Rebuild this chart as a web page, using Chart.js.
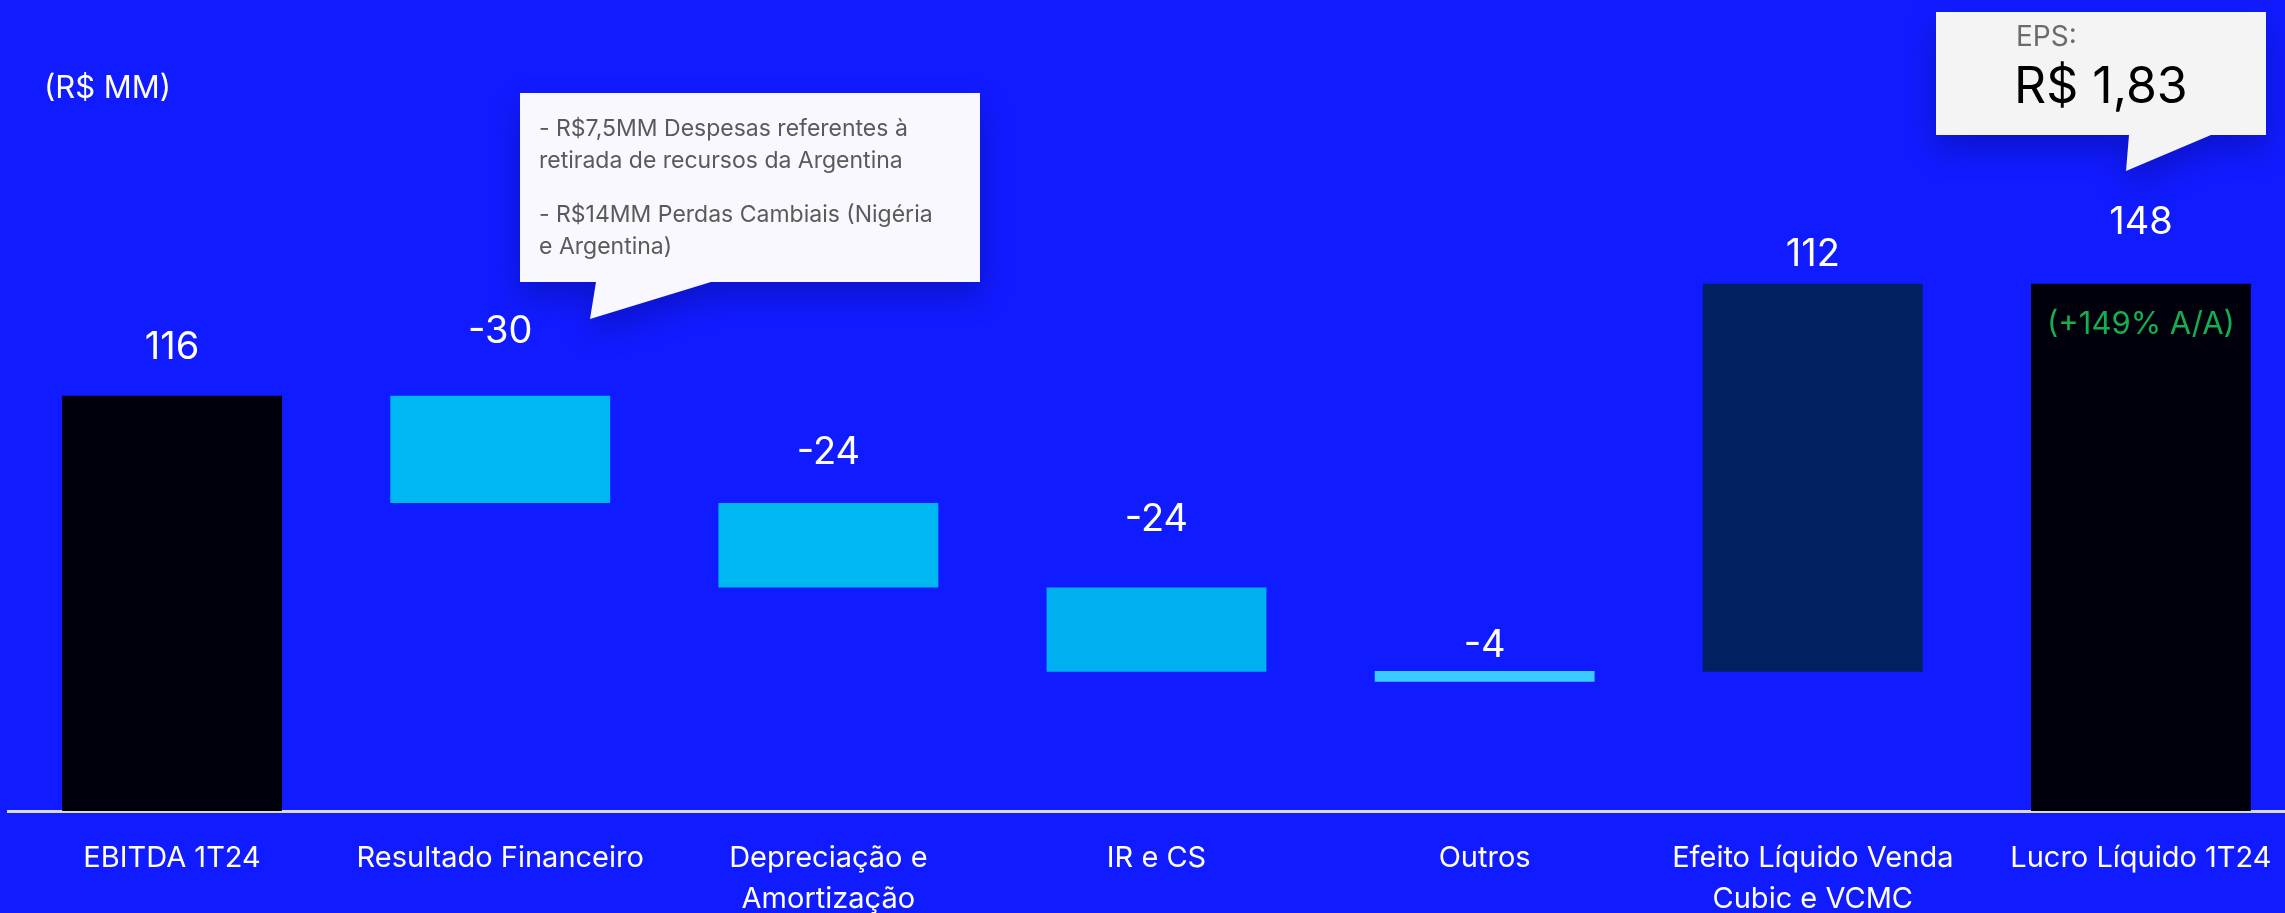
<!DOCTYPE html>
<html><head><meta charset="utf-8">
<script src="https://cdn.jsdelivr.net/npm/chart.js@4.4.1/dist/chart.umd.min.js"></script>
<style>
html,body{margin:0;padding:0;background:#111BFF;overflow:hidden;width:2285px;height:913px;}
#wrap{position:absolute;left:0;top:0;width:2305px;height:913px;}
</style></head><body>
<div id="wrap"><canvas id="c"></canvas></div>
<script>
// ---- data ----
const categories = [
  ['EBITDA 1T24'],
  ['Resultado Financeiro'],
  ['Depreciação e', 'Amortização'],
  ['IR e CS'],
  ['Outros'],
  ['Efeito Líquido Venda', 'Cubic e VCMC'],
  ['Lucro Líquido 1T24']
];
const valueLabels = [116, -30, -24, -24, -4, 112, 148];
const barStart = [0, 116, 86, 62.4, 39.1, 38.9, 0];
const barEnd   = [116, 86, 62.4, 38.9, 36.1, 147.3, 147.3];
const unitLabel = '(R$ MM)';
const noteLines = [
  '- R$7,5MM Despesas referentes à',
  'retirada de recursos da Argentina',
  '- R$14MM Perdas Cambiais (Nigéria',
  'e Argentina)'
];
const epsTitle = 'EPS:';
const epsValue = 'R$ 1,83';
const growthNote = '(+149% A/A)';

// ---- styles ----
const barColors = ['#00000C', '#00B8F1', '#00B8F1', '#00B0F0', '#38CCFF', '#002060', '#00000C'];
const labelOffsets = [-48, -64, -51, -68, -25, -29, -61];
const FONT = 'Inter, "Open Sans", sans-serif';

function drawCallout(ctx, pts, fill) {
  ctx.save();
  ctx.shadowColor = 'rgba(0,0,70,0.28)';
  ctx.shadowBlur = 30;
  ctx.shadowOffsetY = 14;
  ctx.beginPath();
  pts.forEach((p, i) => i ? ctx.lineTo(p[0], p[1]) : ctx.moveTo(p[0], p[1]));
  ctx.closePath();
  ctx.fillStyle = fill;
  ctx.fill();
  ctx.restore();
}

const overlay = {
  id: 'overlay',
  afterDatasetsDraw(chart) {
    const ctx = chart.ctx;
    const meta = chart.getDatasetMeta(0);
    ctx.save();
    ctx.textAlign = 'center';
    ctx.textBaseline = 'middle';
    ctx.fillStyle = '#FFFFFF';
    ctx.font = '38px ' + FONT;
    meta.data.forEach((bar, i) => {
      const top = Math.min(bar.y, bar.base);
      ctx.fillText(String(valueLabels[i]), bar.x, top + labelOffsets[i]);
    });
    const last = meta.data[meta.data.length - 1];
    ctx.font = '31px ' + FONT;
    ctx.fillStyle = '#12B04F';
    ctx.fillText(growthNote, last.x, Math.min(last.y, last.base) + 41);

    ctx.textAlign = 'left';
    ctx.fillStyle = '#FFFFFF';
    ctx.font = '31px ' + FONT;
    ctx.fillText(unitLabel, 44, 89);

    // note callout
    drawCallout(ctx, [[520,93],[980,93],[980,282],[711,282],[590,319],[596,282],[520,282]], '#FAF8FF');
    ctx.fillStyle = '#5A5A5A';
    ctx.font = '23px ' + FONT;
    [129, 161, 215, 247].forEach((y, i) => ctx.fillText(noteLines[i], 539, y));

    // EPS callout
    drawCallout(ctx, [[1936,12],[2266,12],[2266,135],[2211,135],[2126,171],[2129,135],[1936,135]], '#F4F4F4');
    ctx.fillStyle = '#6B6B6B';
    ctx.font = '28px ' + FONT;
    ctx.fillText(epsTitle, 2016, 38);
    ctx.fillStyle = '#000000';
    ctx.font = '50px ' + FONT;
    ctx.fillText(epsValue, 2014, 88);
    ctx.restore();
  }
};

new Chart(document.getElementById('c'), {
  type: 'bar',
  data: {
    labels: categories,
    datasets: [{
      data: categories.map((_, i) => [barStart[i], barEnd[i]]),
      backgroundColor: barColors,
      borderWidth: 0,
      barPercentage: 0.67,
      categoryPercentage: 1
    }]
  },
  options: {
    responsive: true,
    maintainAspectRatio: false,
    animation: false,
    layout: { padding: { left: 8, right: 0, top: 95, bottom: 0 } },
    plugins: { legend: { display: false }, tooltip: { enabled: false } },
    scales: {
      x: {
        grid: { display: false },
        border: { display: true, color: '#D9D9D9', width: 3 },
        ticks: { color: '#FFFFFF', font: { family: FONT, size: 29, lineHeight: 1.41 }, padding: 19, maxRotation: 0, autoSkip: false },
        afterFit(s) { s.height = 102; }
      },
      y: { display: false, min: 0, max: 200 }
    }
  },
  plugins: [overlay]
});
</script>
</body></html>
